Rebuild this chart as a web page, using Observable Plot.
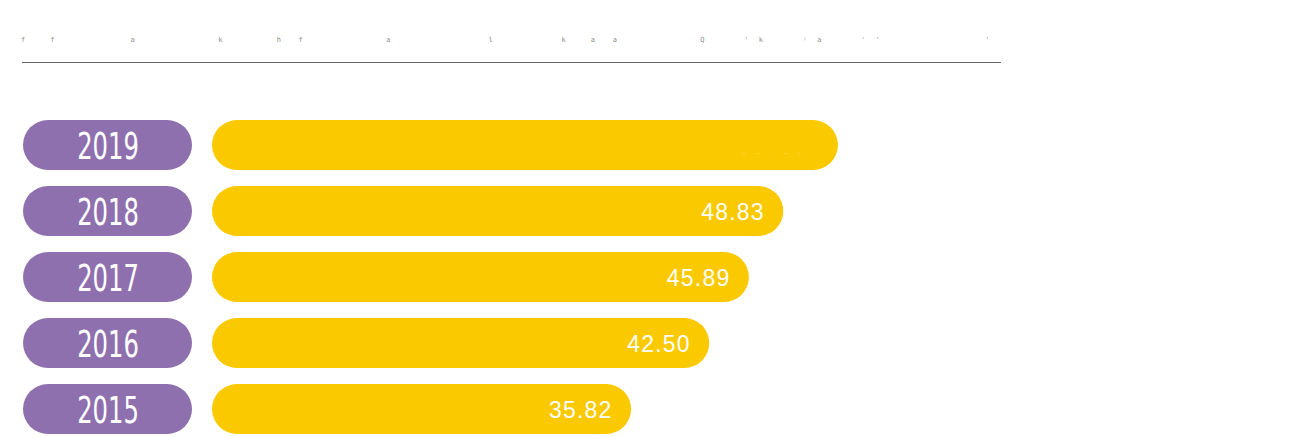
<!DOCTYPE html>
<html>
<head>
<meta charset="utf-8">
<script src="https://cdn.jsdelivr.net/npm/d3@7"></script>
<script src="https://cdn.jsdelivr.net/npm/@observablehq/plot@0.6"></script>
<style>
  html, body { margin: 0; padding: 0; background: #fff; }
  #page { position: relative; width: 1304px; height: 436px; overflow: hidden; }
  #header { position: relative; height: 64px; }
  #title { position: absolute; left: 21px; top: 36px; font-family: "DejaVu Sans Mono", monospace;
           font-size: 7px; letter-spacing: 3.09px; color: #8c8c8c; white-space: pre; line-height: 8px; }
  #rule { position: absolute; left: 22px; top: 62px; width: 979px; height: 0; border-top: 1px solid #666; }
  #row { display: flex; flex-direction: row; }
  #vals svg > g:nth-of-type(2) text { letter-spacing: 1.2px; }
  #vals svg > g:nth-of-type(3) text { letter-spacing: 13px; }
</style>
</head>
<body>
<div id="page">
  <div id="header"><div id="title"></div><div id="rule"></div></div>
  <div id="row"><div id="pills"></div><div id="vals"></div></div>
</div>
<script>
// ---- data ----
const years = ["2019", "2018", "2017", "2016", "2015"];
const values = [53.5, 48.83, 45.89, 42.50, 35.82];
const valueLabels = ["53.50", "48.83", "45.89", "42.50", "35.82"];
const titleGlyphs = ["f", "f", "a", "k", "h", "f", "a", "l", "k", "a", "a", "Q", "'", "k", "ʲ", "a", "'", "'", "'"];
const titleColumns = [0, 4, 15, 27, 35, 38, 50, 64, 74, 78, 81, 93, 99, 101, 107, 109, 115, 117, 132];

const data = years.map((y, i) => ({year: y, value: values[i], label: valueLabels[i]}));

// title (garbled, widely spaced glyphs)
const cells = Array(133).fill(" ");
titleGlyphs.forEach((g, i) => { cells[titleColumns[i]] = g; });
document.getElementById("title").textContent = cells.join("");

const PURPLE = "#8F70AE";
const YELLOW = "#FBC900";
const H = 372;
const yScale = {domain: years, paddingInner: 0.246, paddingOuter: 0.02, axis: null};

// year pills
const pills = Plot.plot({
  width: 212, height: H,
  marginLeft: 23, marginRight: 20, marginTop: 54, marginBottom: 0,
  y: yScale,
  x: {axis: null},
  marks: [
    Plot.barX(data, {y: "year", fill: PURPLE, rx: 25}),
    Plot.text(data, {y: "year", text: "year", frameAnchor: "middle", fill: "white",
      fontSize: 38, fontFamily: "DejaVu Sans Condensed, sans-serif"})
  ]
});
document.getElementById("pills").appendChild(pills);
// condense the year glyphs horizontally around their centre, keeping Plot's own offset
{
  const g = pills.querySelectorAll(":scope > g")[1];
  const t = g.getAttribute("transform") || "";
  g.setAttribute("transform", `${t} translate(107.5,1) scale(0.71,1) translate(-107.5,0)`);
}

// value bars
const vals = Plot.plot({
  width: 1092, height: H,
  marginLeft: 0, marginRight: 0, marginTop: 54, marginBottom: 0,
  y: yScale,
  x: {domain: [0, 60], range: [0, 702], axis: null},
  marks: [
    Plot.barX(data, {x: "value", y: "year", fill: YELLOW, rx: 25}),
    Plot.text(data.filter(d => d.year !== "2019"), {x: "value", y: "year", text: "label", textAnchor: "end",
      dx: -19, dy: 1, fill: "white", fontSize: 23, fontFamily: "Liberation Sans, Arial, sans-serif"}),
    Plot.text(data.filter(d => d.year === "2019"), {x: "value", y: "year", text: "label", textAnchor: "end",
      dx: -25, dy: 8, fill: "white", fontSize: 2, fontFamily: "Liberation Sans, Arial, sans-serif"})
  ]
});
document.getElementById("vals").appendChild(vals);
</script>
</body>
</html>
